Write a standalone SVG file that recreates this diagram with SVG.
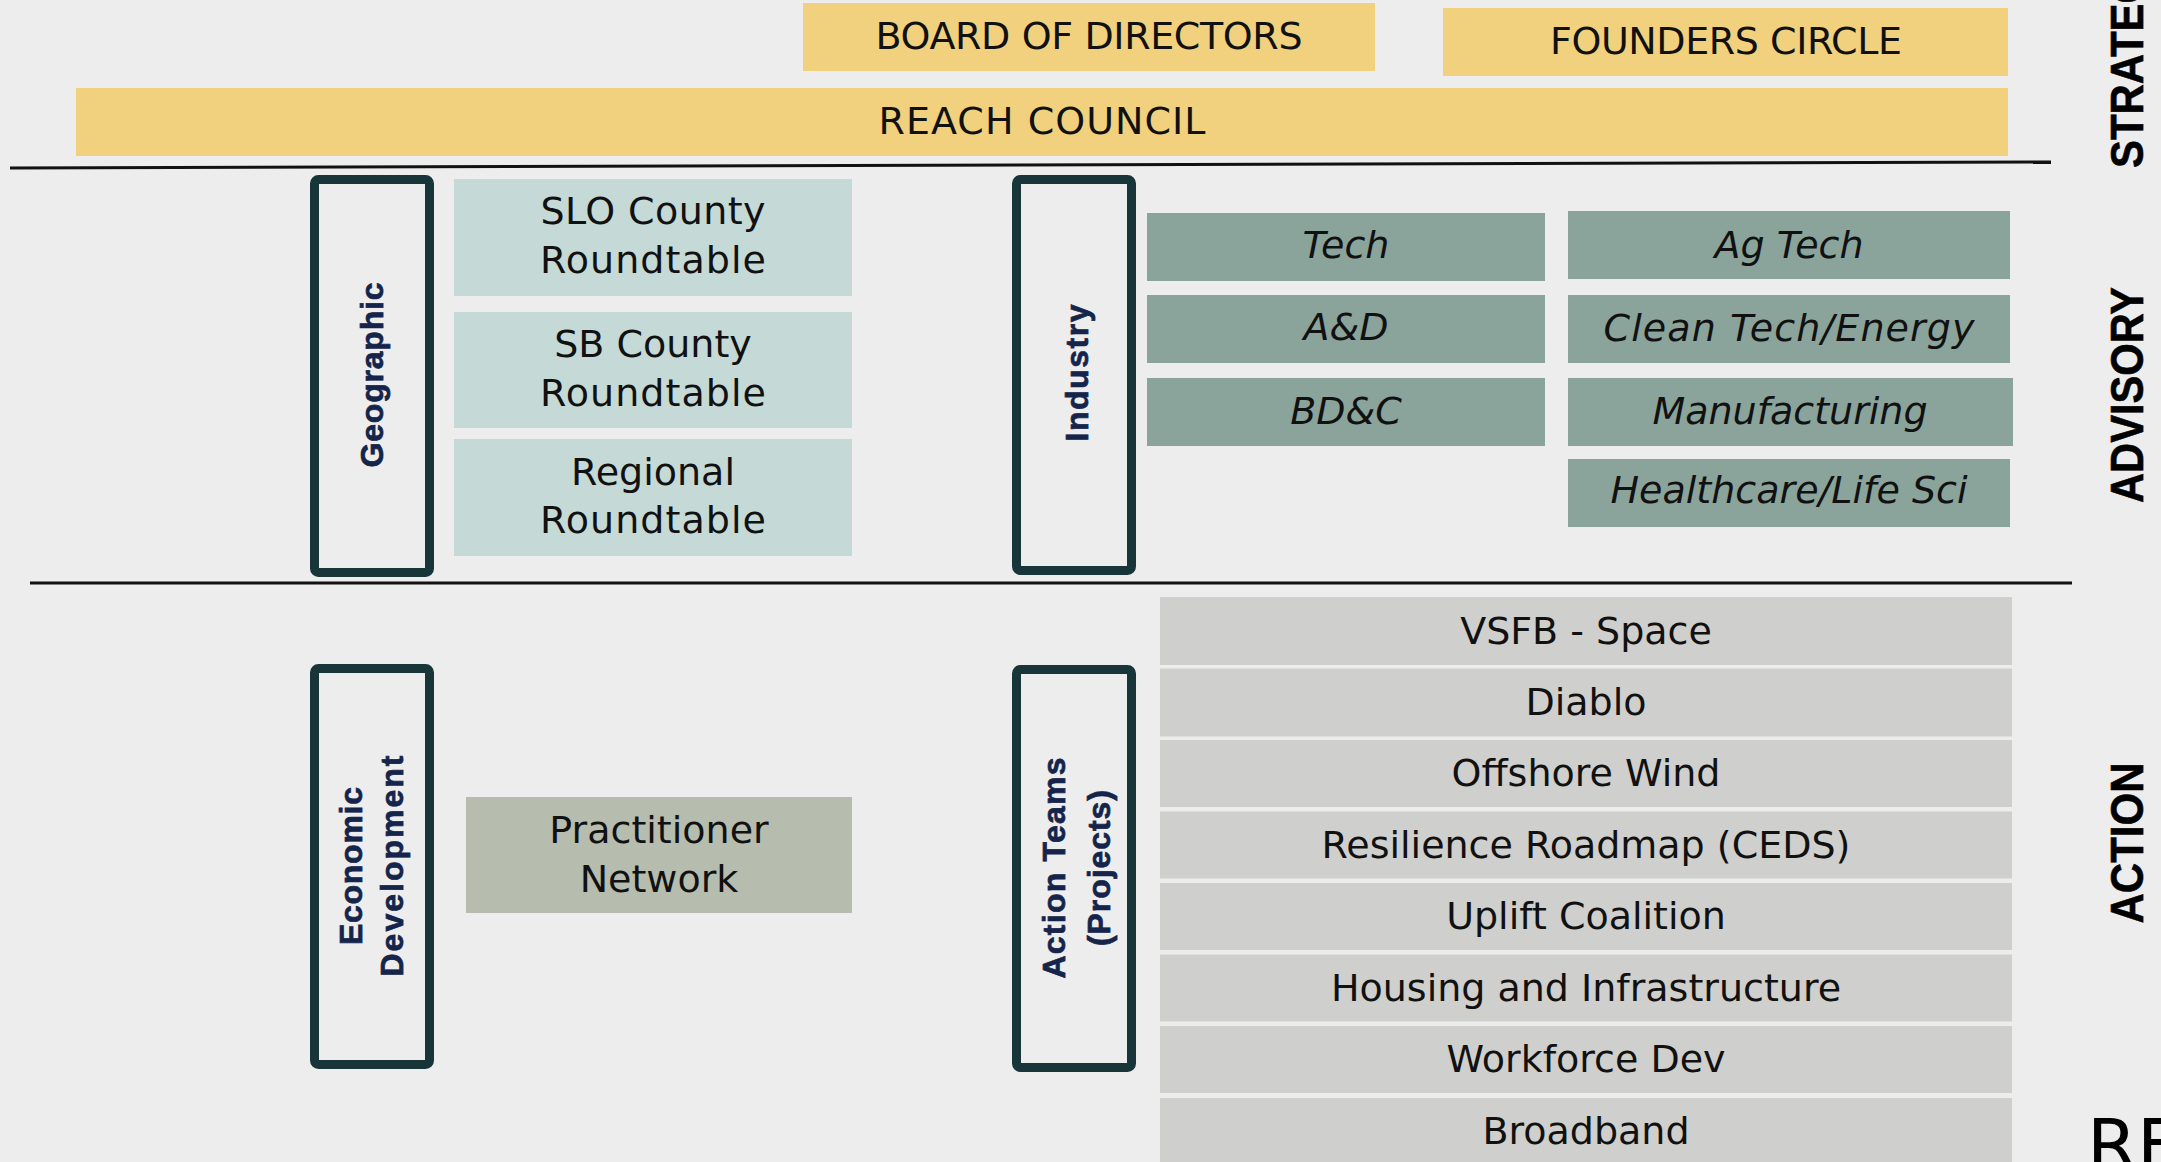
<svg xmlns="http://www.w3.org/2000/svg" width="2161" height="1162" viewBox="0 0 2161 1162">
<style>
.t{font-family:"DejaVu Sans","Liberation Sans",sans-serif;font-size:38px;fill:#111;text-anchor:middle}
.i{font-style:italic}
.lbl{font-family:"Liberation Sans","DejaVu Sans",sans-serif;font-weight:bold;font-size:32px;fill:#14244a;stroke:#14244a;stroke-width:0.7;text-anchor:middle}
.side{font-family:"Liberation Sans","DejaVu Sans",sans-serif;font-weight:bold;font-size:46px;fill:#000;stroke:#000;stroke-width:0.6}
.gold{fill:#f1d17e}
.geo{fill:#c5d9d6}
.ind{fill:#8aa39b}
.prac{fill:#b6bcae}
.act{fill:#cfcfcd}
.frame{fill:none;stroke:#18353a;stroke-width:9}
.sep{stroke:#111;stroke-width:3}
</style>
<rect width="2161" height="1162" fill="#ededed"/>

<g id="separators">
<line class="sep" x1="10" y1="168" x2="2051" y2="162"/>
<line class="sep" x1="30" y1="583" x2="2072" y2="583"/>
</g>

<g id="board">
<rect class="gold" x="803" y="3" width="572" height="68"/>
<text class="t" x="1089" y="49" textLength="427">BOARD OF DIRECTORS</text>
</g>
<g id="founders">
<rect class="gold" x="1443" y="8" width="565" height="68"/>
<text class="t" x="1726" y="54" textLength="352">FOUNDERS CIRCLE</text>
</g>
<g id="reach">
<rect class="gold" x="76" y="88" width="1932" height="68"/>
<text class="t" x="1042" y="134" textLength="327">REACH COUNCIL</text>
</g>

<g id="geographic">
<rect class="frame" x="314.5" y="179.5" width="115" height="393" rx="4"/>
<text class="lbl" transform="translate(383,375) rotate(-90)" textLength="185">Geographic</text>
</g>
<g id="slo">
<rect class="geo" x="454" y="179" width="398" height="117"/>
<text class="t" x="653" y="224" textLength="225">SLO County</text>
<text class="t" x="653" y="273" textLength="226">Roundtable</text>
</g>
<g id="sb">
<rect class="geo" x="454" y="312" width="398" height="116"/>
<text class="t" x="653" y="357">SB County</text>
<text class="t" x="653" y="406" textLength="226">Roundtable</text>
</g>
<g id="regional">
<rect class="geo" x="454" y="439" width="398" height="117"/>
<text class="t" x="653" y="485">Regional</text>
<text class="t" x="653" y="533" textLength="226">Roundtable</text>
</g>

<g id="industry">
<rect class="frame" x="1016.5" y="179.5" width="115" height="391" rx="4"/>
<text class="lbl" transform="translate(1088,373) rotate(-90)" textLength="137">Industry</text>
</g>
<g id="tech">
<rect class="ind" x="1147" y="213" width="398" height="68"/>
<text class="t i" x="1346" y="258">Tech</text>
</g>
<g id="ad">
<rect class="ind" x="1147" y="295" width="398" height="68"/>
<text class="t i" x="1346" y="340">A&amp;D</text>
</g>
<g id="bdc">
<rect class="ind" x="1147" y="378" width="398" height="68"/>
<text class="t i" x="1346" y="424">BD&amp;C</text>
</g>
<g id="agtech">
<rect class="ind" x="1568" y="211" width="442" height="68"/>
<text class="t i" x="1789" y="258">Ag Tech</text>
</g>
<g id="cleantech">
<rect class="ind" x="1568" y="295" width="442" height="68"/>
<text class="t i" x="1789" y="341" textLength="371">Clean Tech/Energy</text>
</g>
<g id="manufacturing">
<rect class="ind" x="1568" y="378" width="445" height="68"/>
<text class="t i" x="1790" y="424">Manufacturing</text>
</g>
<g id="healthcare">
<rect class="ind" x="1568" y="459" width="442" height="68"/>
<text class="t i" x="1789" y="503">Healthcare/Life Sci</text>
</g>

<g id="econdev">
<rect class="frame" x="314.5" y="668.5" width="115" height="396" rx="4"/>
<text class="lbl" transform="translate(362,866) rotate(-90)" textLength="158">Economic</text>
<text class="lbl" transform="translate(403,866) rotate(-90)" textLength="221">Development</text>
</g>
<g id="practitioner">
<rect class="prac" x="466" y="797" width="386" height="116"/>
<text class="t" x="659" y="843">Practitioner</text>
<text class="t" x="659" y="892">Network</text>
</g>

<g id="actionteams">
<rect class="frame" x="1016.5" y="669.5" width="115" height="398" rx="4"/>
<text class="lbl" transform="translate(1065,868) rotate(-90)" textLength="221">Action Teams</text>
<text class="lbl" transform="translate(1110,868) rotate(-90)" textLength="156">(Projects)</text>
</g>
<g id="vsfb"><rect class="act" x="1160" y="597" width="852" height="68"/><text class="t" x="1586" y="644">VSFB - Space</text></g>
<g id="diablo"><rect class="act" x="1160" y="668.5" width="852" height="68"/><text class="t" x="1586" y="715">Diablo</text></g>
<g id="offshore"><rect class="act" x="1160" y="740" width="852" height="67"/><text class="t" x="1586" y="786">Offshore Wind</text></g>
<g id="resilience"><rect class="act" x="1160" y="811.5" width="852" height="67"/><text class="t" x="1586" y="858">Resilience Roadmap (CEDS)</text></g>
<g id="uplift"><rect class="act" x="1160" y="883" width="852" height="67"/><text class="t" x="1586" y="929">Uplift Coalition</text></g>
<g id="housing"><rect class="act" x="1160" y="954.5" width="852" height="67"/><text class="t" x="1586" y="1001">Housing and Infrastructure</text></g>
<g id="workforce"><rect class="act" x="1160" y="1026" width="852" height="67"/><text class="t" x="1586" y="1072">Workforce Dev</text></g>
<g id="broadband"><rect class="act" x="1160" y="1098" width="852" height="70"/><text class="t" x="1586" y="1144">Broadband</text></g>

<g id="tiers">
<text class="side" transform="translate(2143,168) rotate(-90)" textLength="239" lengthAdjust="spacingAndGlyphs">STRATEGIC</text>
<text class="side" transform="translate(2143,395) rotate(-90)" text-anchor="middle" textLength="216" lengthAdjust="spacingAndGlyphs">ADVISORY</text>
<text class="side" transform="translate(2143,843) rotate(-90)" text-anchor="middle" textLength="161" lengthAdjust="spacingAndGlyphs">ACTION</text>
<text x="2087" y="1170" font-family="DejaVu Sans, sans-serif" font-size="72" fill="#000">RE</text>
</g>
</svg>
